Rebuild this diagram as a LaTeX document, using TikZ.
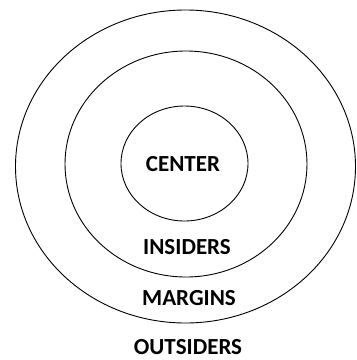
\documentclass[tikz,border=0pt]{standalone}
\usepackage{fontspec}
\setmainfont{Carlito}
\begin{document}
\begin{tikzpicture}[x=1pt,y=-1pt,
  ring/.style={line width=0.9pt},
  lbl/.style={font=\bfseries\fontsize{23}{27}\selectfont,inner sep=0pt}]
\useasboundingbox (0,0) rectangle (357,360);
\draw[ring] (185.5,166.5) ellipse [x radius=170, y radius=156.5];
\draw[ring] (186,164) ellipse [x radius=121, y radius=113];
\draw[ring] (184.5,163.5) ellipse [x radius=63.5, y radius=57.5];
\node[lbl] (center) at (183,164) {CENTER};
\node[lbl] (insiders) at (187,247) {INSIDERS};
\node[lbl] (margins) at (189,298) {MARGINS};
\node[lbl] (outsiders) at (188,347.5) {OUTSIDERS};
\end{tikzpicture}
\end{document}
